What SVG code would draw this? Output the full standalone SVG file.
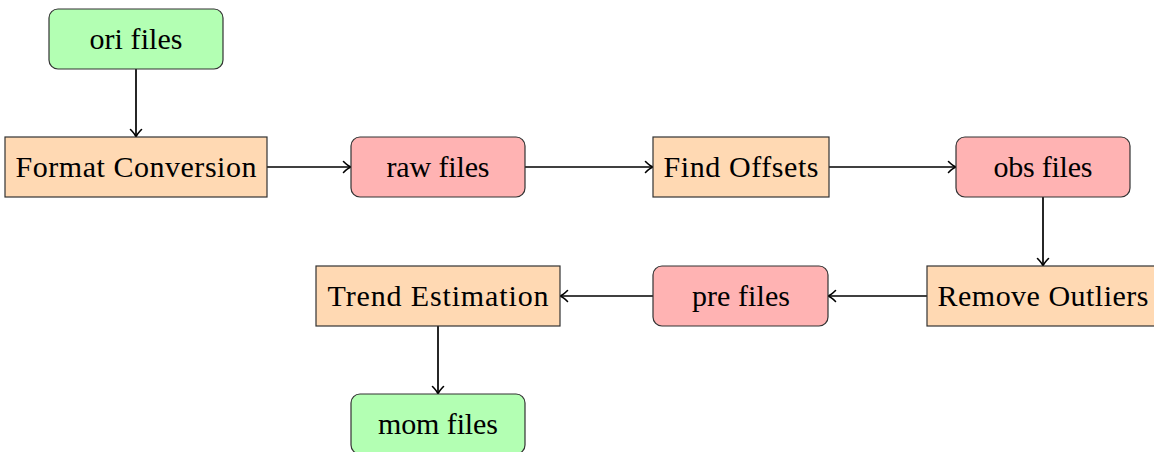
<svg xmlns="http://www.w3.org/2000/svg" width="1154" height="452" viewBox="0 0 1154 452">
<style>
.box{stroke:#333;stroke-width:1.2}
.g{fill:#b3ffb3}
.r{fill:#ffb3b3}
.o{fill:#ffd9b3}
text{font-family:"Liberation Serif","Times New Roman",serif;font-size:30px;fill:#000;text-anchor:middle}
.c{stroke:#000;stroke-width:1.7;fill:none;marker-end:url(#ah)}
</style>
<defs>
<marker id="ah" markerWidth="14" markerHeight="14" refX="10" refY="7" orient="auto" markerUnits="userSpaceOnUse">
<path d="M2.5,1.5 Q7,6 10,7 Q7,8 2.5,12.5" fill="none" stroke="#000" stroke-width="1.6" stroke-linecap="round"/>
</marker>
</defs>
<g id="connectors">
<line class="c" x1="136" y1="69" x2="136" y2="137"/>
<line class="c" x1="267" y1="167" x2="351" y2="167"/>
<line class="c" x1="525" y1="167" x2="653" y2="167"/>
<line class="c" x1="829" y1="167" x2="956" y2="167"/>
<line class="c" x1="1043" y1="197" x2="1043" y2="266"/>
<line class="c" x1="927" y1="296" x2="828" y2="296"/>
<line class="c" x1="653" y1="296" x2="560" y2="296"/>
<line class="c" x1="438" y1="326" x2="438" y2="394"/>
</g>
<g id="ori"><rect class="box g" x="49" y="9" width="174" height="60" rx="9"/><text x="136" y="49" textLength="93" lengthAdjust="spacing">ori files</text></g>
<g id="format"><rect class="box o" x="5" y="137" width="262" height="60"/><text x="136" y="177" textLength="241" lengthAdjust="spacing">Format Conversion</text></g>
<g id="raw"><rect class="box r" x="351" y="137" width="174" height="60" rx="9"/><text x="438" y="177" textLength="103" lengthAdjust="spacing">raw files</text></g>
<g id="find"><rect class="box o" x="653" y="137" width="176" height="60"/><text x="741" y="177" textLength="155" lengthAdjust="spacing">Find Offsets</text></g>
<g id="obs"><rect class="box r" x="956" y="137" width="174" height="60" rx="9"/><text x="1043" y="177" textLength="99" lengthAdjust="spacing">obs files</text></g>
<g id="remove"><rect class="box o" x="927" y="266" width="232" height="60"/><text x="1043" y="306" textLength="211" lengthAdjust="spacing">Remove Outliers</text></g>
<g id="pre"><rect class="box r" x="653" y="266" width="175" height="60" rx="9"/><text x="741" y="306" textLength="98" lengthAdjust="spacing">pre files</text></g>
<g id="trend"><rect class="box o" x="316" y="266" width="244" height="60"/><text x="438" y="306" textLength="221" lengthAdjust="spacing">Trend Estimation</text></g>
<g id="mom"><rect class="box g" x="351" y="394" width="174" height="60" rx="9"/><text x="438" y="434" textLength="120" lengthAdjust="spacing">mom files</text></g>
</svg>
